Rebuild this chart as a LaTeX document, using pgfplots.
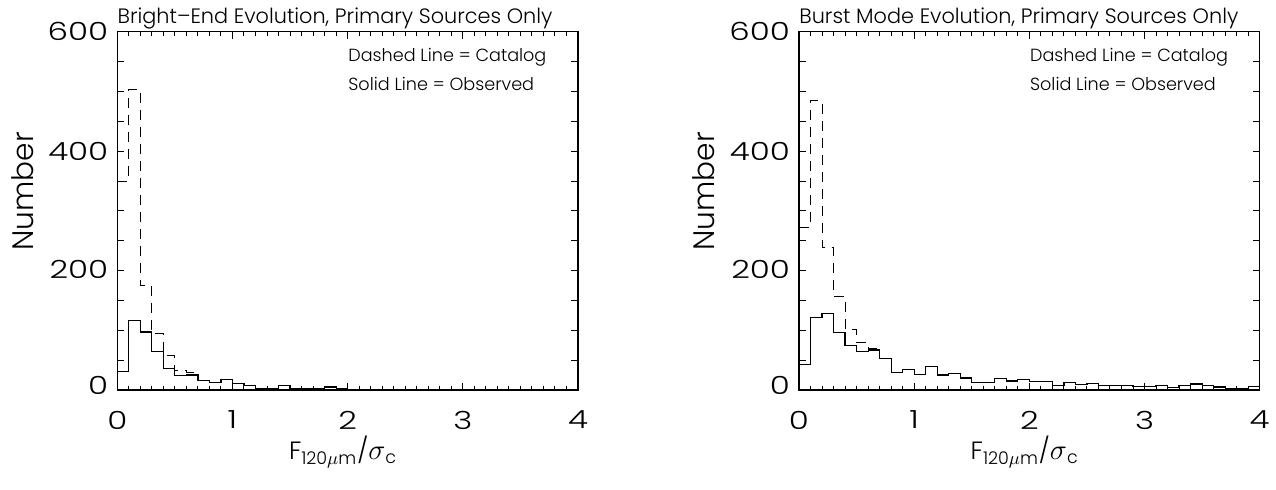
\documentclass[border=0pt]{standalone}
\usepackage{pgfplots}
\pgfplotsset{compat=1.18}
\usepackage{pgfplotstable}
\usepackage{fontspec}
\setmainfont{Poppins Light}
\usepackage{graphicx}

% bins of width 0.1; value holds from x to x+0.1
\pgfplotstableread{
x y
0.0 350
0.1 504
0.2 175
0.3 94
0.4 58
0.5 32
0.6 29
0.7 16
0.8 12
0.9 18
1.0 11
1.1 8
1.2 2
1.3 2
1.4 8
1.5 2
1.6 2
1.7 2
1.8 5
1.9 2
2.0 0
2.1 1
2.2 0
2.3 1
2.4 1
2.5 0
2.6 0
2.7 0
2.8 0
2.9 1
3.0 0
3.1 0
3.2 0
3.3 0
3.4 0
3.5 0
3.6 0
3.7 1
3.8 0
3.9 0
4.0 0
}\leftcat

\pgfplotstableread{
x y
0.0 31
0.1 116
0.2 97
0.3 65
0.4 36
0.5 24
0.6 25
0.7 16
0.8 12
0.9 18
1.0 11
1.1 8
1.2 2
1.3 2
1.4 8
1.5 2
1.6 2
1.7 2
1.8 5
1.9 2
2.0 0
2.1 1
2.2 0
2.3 1
2.4 1
2.5 0
2.6 0
2.7 0
2.8 0
2.9 1
3.0 0
3.1 0
3.2 0
3.3 0
3.4 0
3.5 0
3.6 0
3.7 1
3.8 0
3.9 0
4.0 0
}\leftobs

\pgfplotstableread{
x y
0.0 272
0.1 484
0.2 238
0.3 157
0.4 101
0.5 79
0.6 70
0.7 53
0.8 29
0.9 35
1.0 26
1.1 39
1.2 25
1.3 27
1.4 20
1.5 13
1.6 13
1.7 19
1.8 15
1.9 17
2.0 14
2.1 14
2.2 7
2.3 13
2.4 9
2.5 11
2.6 7
2.7 7
2.8 7
2.9 6
3.0 6
3.1 7
3.2 4
3.3 7
3.4 10
3.5 7
3.6 5
3.7 3
3.8 3
3.9 6
4.0 6
}\rightcat

\pgfplotstableread{
x y
0.0 43
0.1 121
0.2 128
0.3 96
0.4 74
0.5 64
0.6 67
0.7 53
0.8 29
0.9 35
1.0 26
1.1 39
1.2 25
1.3 27
1.4 20
1.5 13
1.6 13
1.7 19
1.8 15
1.9 17
2.0 14
2.1 14
2.2 7
2.3 13
2.4 9
2.5 11
2.6 7
2.7 7
2.8 7
2.9 6
3.0 6
3.1 7
3.2 4
3.3 7
3.4 10
3.5 7
3.6 5
3.7 3
3.8 3
3.9 6
4.0 6
}\rightobs

\newcommand{\widen}[1]{\scalebox{1.3}[1]{#1}}

\pgfplotsset{idl/.style={
  scale only axis, width=230.35pt, height=179.15pt,
  xmin=0, xmax=4, ymin=0, ymax=600,
  xtick={0,1,2,3,4}, xticklabels={\widen{0},\widen{1},\widen{2},\widen{3},\widen{4}},
  minor x tick num=9,
  ytick={0,50,...,600},
  yticklabels={\raisebox{5pt}{\widen{0}},,,,\raisebox{1.5pt}{\widen{200}},,,,\widen{400},,,,\raisebox{-2.5pt}{\widen{600}}},
  tick align=inside, xtick pos=both, ytick pos=both,
  xticklabel pos=left, yticklabel pos=left,
  major tick length=3.5pt, minor tick length=2pt,
  every tick/.style={black, line width=0.5pt},
  axis line style={line width=0.6pt},
  tick label style={font=\fontsize{12.5}{13}\selectfont},
  xticklabel style={yshift=-7pt},
  yticklabel style={xshift=-1pt},
  ylabel={Number},
  ylabel style={at={(axis description cs:-0.206,0.555)}, anchor=center, font=\fontsize{14.8}{16}\selectfont},
  xlabel={F\textsubscript{120$\mu$m}/{\Large$\sigma$}\textsubscript{c}},
  xlabel style={at={(axis description cs:0.49,-0.173)}, anchor=center, font=\fontsize{12.5}{14}\selectfont},
  every axis title/.style={at={(rel axis cs:0,1)}, anchor=base west, yshift=3.9pt, inner sep=0pt, font=\fontsize{10.4}{11}\selectfont},
  clip=false,
}}

\begin{document}
\begin{tikzpicture}
\path[use as bounding box] (-58.65pt,-49.5pt) rectangle (579.35pt,195pt);
\begin{axis}[idl, at={(0pt,0pt)}, anchor=south west,
  title={Bright--End Evolution, Primary Sources Only}]
  \addplot[const plot, black, line width=0.5pt, dash pattern=on 5pt off 3.5pt] table {\leftcat};
  \addplot[const plot, black, line width=0.6pt] table {\leftobs};
  \node[anchor=base west, inner sep=0pt, font=\fontsize{8.8}{10}\selectfont] at (rel axis cs:0.5008,0.916) {Dashed Line = Catalog};
  \node[anchor=base west, inner sep=0pt, font=\fontsize{8.8}{10}\selectfont] at (rel axis cs:0.5008,0.835) {Solid Line = Observed};
\end{axis}
\begin{axis}[idl, at={(340.85pt,0pt)}, anchor=south west,
  title={Burst Mode Evolution, Primary Sources Only}]
  \addplot[const plot, black, line width=0.5pt, dash pattern=on 5pt off 3.5pt] table {\rightcat};
  \addplot[const plot, black, line width=0.6pt] table {\rightobs};
  \node[anchor=base west, inner sep=0pt, font=\fontsize{8.8}{10}\selectfont] at (rel axis cs:0.5008,0.916) {Dashed Line = Catalog};
  \node[anchor=base west, inner sep=0pt, font=\fontsize{8.8}{10}\selectfont] at (rel axis cs:0.5008,0.835) {Solid Line = Observed};
\end{axis}
\end{tikzpicture}
\end{document}
